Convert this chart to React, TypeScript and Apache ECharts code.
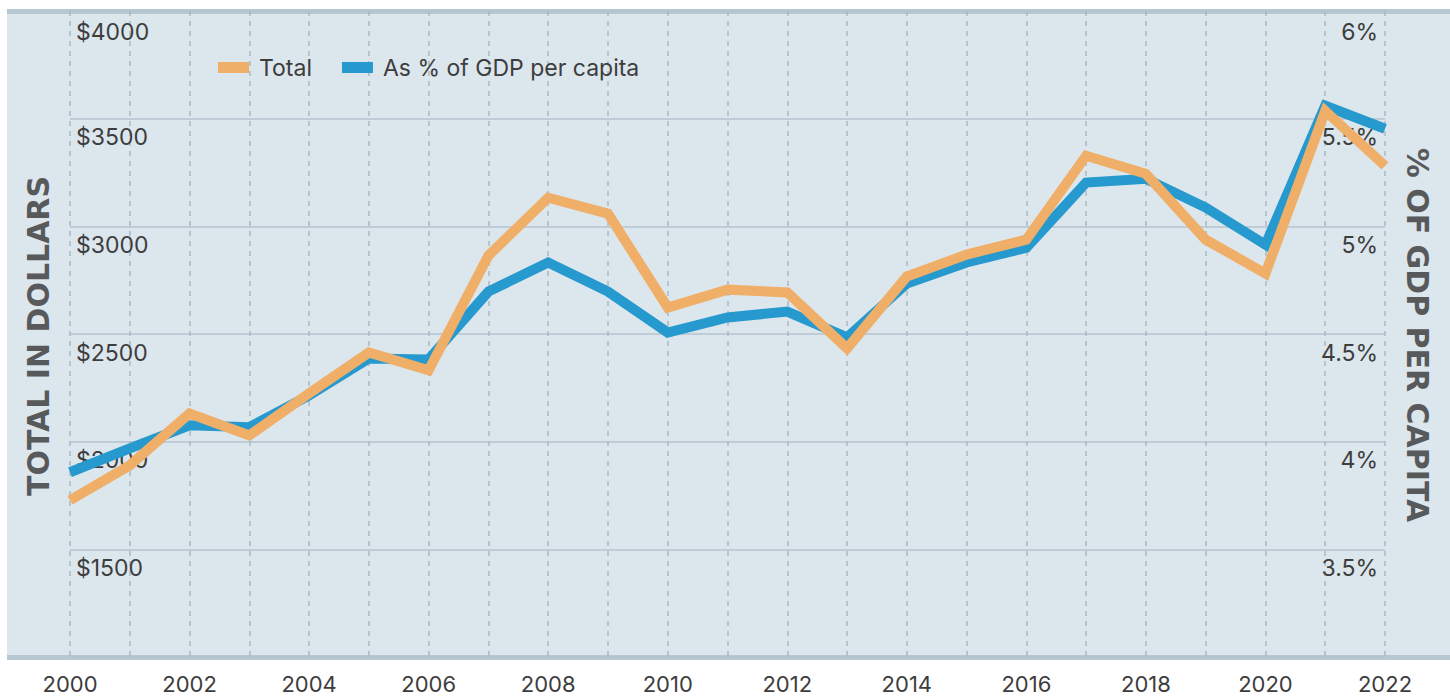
import React, { useEffect, useRef } from "react";
import * as echarts from "echarts";

const years = ["2000","2001","2002","2003","2004","2005","2006","2007","2008","2009","2010","2011","2012","2013","2014","2015","2016","2017","2018","2019","2020","2021","2022"];
const totalDollars = [1728,1890,2131,2029,2224,2414,2331,2864,3133,3059,2623,2706,2693,2433,2767,2869,2938,3328,3244,2938,2781,3536,3281];
const pctGdp = [3.858,3.969,4.076,4.067,4.215,4.386,4.382,4.697,4.832,4.697,4.507,4.577,4.604,4.484,4.734,4.832,4.901,5.203,5.221,5.087,4.915,5.56,5.453];
const leftTicks = { min: 1000, max: 4000, interval: 500 };
const rightTicks = { min: 3, max: 6, interval: 0.5 };
const seriesNames = ["Total", "As % of GDP per capita"];
const axisNames = ["TOTAL IN DOLLARS", "% OF GDP PER CAPITA"];

const ORANGE = "#F0AF68";
const BLUE = "#2699CE";
const FONT = "Inter";
const NAME_FONT = "'DejaVu Sans'";

export default function App() {
  const ref = useRef<HTMLDivElement>(null);
  useEffect(() => {
    const chart = echarts.init(ref.current!, null, { renderer: "svg" });
    const gridLeft = 70, gridRight = 65, gridTop = 11, gridBottom = 39;
    const tickLabel = {
      fontSize: 23, color: "#3d3d3d", fontFamily: FONT, lineHeight: 23,
      rich: { top: { fontSize: 23, color: "#3d3d3d", fontFamily: FONT, lineHeight: 23, padding: [4, 0, 0, 0] } },
    };
    chart.setOption({
      animation: false,
      backgroundColor: "#ffffff",
      textStyle: { fontFamily: FONT },
      grid: { left: gridLeft, right: gridRight, top: gridTop, bottom: gridBottom, containLabel: false },
      legend: {
        data: seriesNames,
        left: 213,
        top: 51,
        itemWidth: 31,
        itemHeight: 11,
        itemGap: 30,
        icon: "rect",
        textStyle: { fontFamily: FONT, fontSize: 23, color: "#3d3d3d", padding: [0, 0, 0, 5] },
      },
      graphic: [
        { type: "rect", z: -10, shape: { x: 7, y: 9, width: 1443, height: 651 }, style: { fill: "#DCE6ED" } },
        { type: "rect", z: -9, shape: { x: 7, y: 9, width: 1443, height: 5 }, style: { fill: "#B8C8D2" } },
        { type: "rect", z: -9, shape: { x: 7, y: 655, width: 1443, height: 5 }, style: { fill: "#B8C8D2" } },
        {
          type: "text", x: 38, y: 336, rotation: Math.PI / 2,
          style: { text: axisNames[0], fill: "#58595b", font: `bold 30px ${NAME_FONT}`, textAlign: "center", textVerticalAlign: "middle" },
        },
        {
          type: "text", x: 1417, y: 335, rotation: -Math.PI / 2,
          style: { text: axisNames[1], fill: "#58595b", font: `bold 30px ${NAME_FONT}`, textAlign: "center", textVerticalAlign: "middle" },
        },
      ],
      xAxis: {
        type: "category",
        data: years,
        boundaryGap: false,
        axisLine: { show: false },
        axisTick: { show: false },
        axisLabel: { interval: 1, margin: 16, fontSize: 22, lineHeight: 22, color: "#3d3d3d", fontFamily: FONT },
        splitLine: { show: true, interval: 0, lineStyle: { color: "#A9B9C4", width: 1.5, type: [5, 5] } },
      },
      yAxis: [
        {
          type: "value",
          min: leftTicks.min, max: leftTicks.max, interval: leftTicks.interval,
          position: "left",
          axisLine: { show: false },
          axisTick: { show: false },
          axisLabel: {
            ...tickLabel,
            inside: true, margin: 6,
            align: "left", verticalAlign: "top", padding: [7, 0, 0, 0],
            formatter: (v: number) => (v === leftTicks.min ? "" : v === leftTicks.max ? "{top|$" + v + "}" : "$" + v),
          },
          splitLine: { show: true, lineStyle: { color: "#B3C3CE", width: 1.5 } },
        },
        {
          type: "value",
          min: rightTicks.min, max: rightTicks.max, interval: rightTicks.interval,
          position: "right",
          axisLine: { show: false },
          axisTick: { show: false },
          axisLabel: {
            ...tickLabel,
            inside: true, margin: 7,
            align: "right", verticalAlign: "top", padding: [7, 0, 0, 0],
            formatter: (v: number) => (v === rightTicks.min ? "" : v === rightTicks.max ? "{top|" + v + "%}" : v + "%"),
          },
          splitLine: { show: false },
        },
      ],
      series: [
        {
          name: seriesNames[1], type: "line", yAxisIndex: 1, data: pctGdp,
          symbol: "none", color: BLUE,
          lineStyle: { color: BLUE, width: 10, join: "miter", cap: "butt" },
        },
        {
          name: seriesNames[0], type: "line", yAxisIndex: 0, data: totalDollars,
          symbol: "none", color: ORANGE,
          lineStyle: { color: ORANGE, width: 10, join: "miter", cap: "butt" },
        },
      ],
    });
    return () => chart.dispose();
  }, []);
  return <div ref={ref} style={{ position: "absolute", left: 0, top: 0, width: 1450, height: 696 }} />;
}
